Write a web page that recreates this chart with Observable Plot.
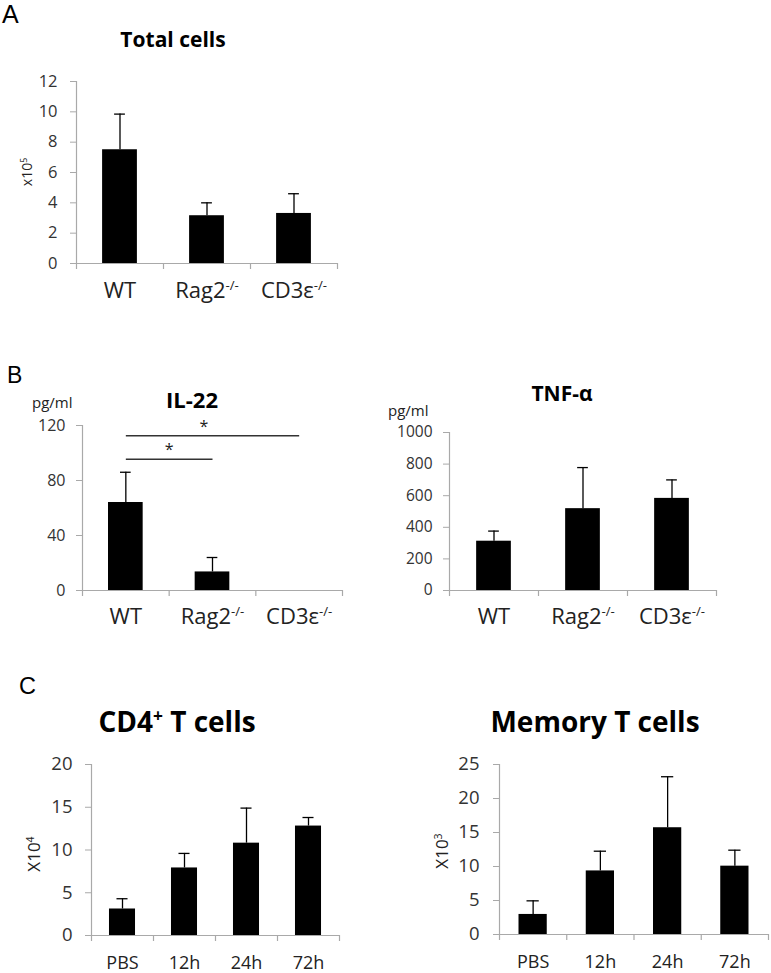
<!DOCTYPE html>
<html>
<head>
<meta charset="utf-8">
<script src="https://cdn.jsdelivr.net/npm/d3@7"></script>
<script src="https://cdn.jsdelivr.net/npm/@observablehq/plot@0.6"></script>
<style>
  html, body { margin: 0; padding: 0; background: #fff; }
  #page { position: relative; width: 771px; height: 973px; overflow: hidden; font-family: "Open Sans", sans-serif; color: #000; }
  .t { position: absolute; white-space: nowrap; line-height: 1; }
  .p { position: absolute; }
  sup { font-size: 0.62em; line-height: 0; vertical-align: 0.55em; }
</style>
</head>
<body>
<div id="page"></div>
<script>
// ---------- data ----------
const genotypes = ["WT", "Rag2-/-", "CD3ε-/-"];
const timepoints = ["PBS", "12h", "24h", "72h"];

const totalMean = [7.5, 3.15, 3.3];
const totalErr = [2.35, 0.85, 1.3];
const totalTicks = [0, 2, 4, 6, 8, 10, 12];

const il22Mean = [64, 13.5, 0];
const il22Err = [22, 10.5, 0];
const il22Ticks = [0, 40, 80, 120];
const il22Sig = [
  {from: "WT", to: "CD3ε-/-", y: 112.5, label: "*", pos: 0.9},
  {from: "WT", to: "Rag2-/-", y: 95.5, label: "*", pos: 0.5}
];

const tnfMean = [312, 518, 583];
const tnfErr = [64, 260, 117];
const tnfTicks = [0, 200, 400, 600, 800, 1000];

const cd4Mean = [3.1, 7.9, 10.8, 12.8];
const cd4Err = [1.2, 1.7, 4.1, 1.0];
const cd4Ticks = [0, 5, 10, 15, 20];

const memMean = [2.95, 9.35, 15.7, 10.05];
const memErr = [2.0, 2.9, 7.5, 2.35];
const memTicks = [0, 5, 10, 15, 20, 25];

// ---------- helpers ----------
const FONT = "'Open Sans', sans-serif";
const AX = "#a9a9a9";
const page = document.getElementById("page");

function addText(html, o) {
  const d = document.createElement("div");
  d.className = "t";
  d.innerHTML = html;
  d.style.fontSize = o.size + "px";
  d.style.fontWeight = o.weight || 400;
  d.style.color = o.color || "#000";
  if (o.family) d.style.fontFamily = o.family;
  d.style.left = o.left + "px";
  d.style.top = o.top + "px";
  if (o.rotate) d.style.transform = "translate(-50%,-50%) rotate(-90deg)";
  else if (o.center) d.style.transform = "translateX(-50%)";
  page.appendChild(d);
}

function barChart(o) {
  const {cats, mean, err, ticks, left, top, width, height, ml, mr, mt, mb, pad, yFont, yPad, xFont, xPad, cap} = o;
  const data = cats.map((c, i) => ({cat: c, v: mean[i], e: err[i], hi: mean[i] + err[i]}));
  const withErr = data.filter(d => d.e > 0);
  const step = (width - ml - mr) / cats.length;
  const yMax = ticks[ticks.length - 1];
  const last = cats[cats.length - 1];
  const axisStyle = {stroke: AX, strokeWidth: 1.2};
  const marks = [
    Plot.barY(data, {x: "cat", y: "v", fill: "#000"}),
    Plot.ruleX(withErr, {x: "cat", y1: "hi", y2: "v", stroke: "#000", strokeWidth: 1.3}),
    Plot.tickY(withErr, {x: "cat", y: "hi", stroke: "#000", strokeWidth: 1.3, insetLeft: cap, insetRight: cap}),
    Plot.ruleY([0], axisStyle),
    Plot.ruleX([cats[0]], {x: d => d, y1: yMax, y2: 0, dx: -step / 2, insetBottom: -6, ...axisStyle}),
    Plot.ruleX(cats.slice(1), {x: d => d, y1: 0, y2: 0, dx: -step / 2, insetBottom: -6, ...axisStyle}),
    Plot.ruleX([last], {x: d => d, y1: 0, y2: 0, dx: step / 2, insetBottom: -6, ...axisStyle}),
    Plot.axisY({ticks, tickSize: 6, tickPadding: yPad, stroke: AX, fill: "#333", fontSize: yFont, label: null, tickFormat: d => String(d)}),
    Plot.axisX({tickSize: 0, tickPadding: xPad, fill: "#222", fontSize: xFont, label: null})
  ];
  if (o.extra) marks.push(...o.extra(step));
  const plot = Plot.plot({
    width, height, marginLeft: ml, marginRight: mr, marginTop: mt, marginBottom: mb,
    style: {fontFamily: FONT, fontSize: yFont + "px", background: "transparent", color: "#333", overflow: "visible"},
    x: {domain: cats, paddingInner: pad, paddingOuter: pad / 2, round: false, align: 0.5},
    y: {domain: [0, yMax]},
    marks
  });
  // superscript "-/-" in category labels
  d3.select(plot).selectAll("text").each(function () {
    const t = this.textContent;
    const m = t.match(/^(.+?)(-\/-)$/);
    if (m && this.childElementCount === 0) {
      const s = d3.select(this);
      s.text(m[1]);
      s.append("tspan").attr("font-size", "0.6em").attr("dy", "-0.62em").text("-/-");
    }
  });
  const wrap = document.createElement("div");
  wrap.className = "p";
  wrap.style.left = left + "px";
  wrap.style.top = top + "px";
  wrap.appendChild(plot);
  page.appendChild(wrap);
}

const LETTER = "'Liberation Sans', Arial, sans-serif";

// ---------- Panel A ----------
addText("A", {left: 2, top: 2, size: 25, family: LETTER});
addText("Total cells", {left: 173, top: 29, size: 21, weight: 700, center: true});
addText("x10<sup>5</sup>", {left: 27, top: 172, size: 14, rotate: true, color: "#222"});
barChart({cats: genotypes, mean: totalMean, err: totalErr, ticks: totalTicks,
  left: 0, top: 70, width: 350, height: 240, ml: 76, mr: 13, mt: 11, mb: 47,
  pad: 0.6, yFont: 16.5, yPad: 13, xFont: 22, xPad: 19, cap: 12});

// ---------- Panel B ----------
addText("B", {left: 7, top: 364, size: 23, family: LETTER});
addText("IL-22", {left: 192, top: 388, size: 22, weight: 700, center: true});
addText("pg/ml", {left: 32, top: 395, size: 15, color: "#222"});
barChart({cats: genotypes, mean: il22Mean, err: il22Err, ticks: il22Ticks,
  left: 0, top: 415, width: 360, height: 215, ml: 82, mr: 18, mt: 10, mb: 40,
  pad: 0.6, yFont: 16, yPad: 11, xFont: 22, xPad: 18, cap: 12,
  extra: step => [
    Plot.link(il22Sig, {x1: "from", x2: "to", y1: "y", y2: "y", stroke: "#333", strokeWidth: 1.5}),
    ...il22Sig.map(s => Plot.text([s], {x: "from", y: "y", text: "label", dx: step * s.pos, dy: -9, fontSize: 16, fill: "#222"}))
  ]});

addText("TNF-&alpha;", {left: 562, top: 383, size: 21, weight: 700, center: true});
addText("pg/ml", {left: 388, top: 403, size: 15, color: "#222"});
barChart({cats: genotypes, mean: tnfMean, err: tnfErr, ticks: tnfTicks,
  left: 370, top: 420, width: 360, height: 210, ml: 79, mr: 14, mt: 12, mb: 40,
  pad: 0.61, yFont: 15.5, yPad: 11, xFont: 22, xPad: 18, cap: 12});

// ---------- Panel C ----------
addText("C", {left: 19, top: 675, size: 23.5, family: LETTER});
addText("CD4<sup>+</sup> T cells", {left: 177, top: 707, size: 28, weight: 700, center: true});
addText("X10<sup>4</sup>", {left: 33, top: 854, size: 17, rotate: true, color: "#222"});
barChart({cats: timepoints, mean: cd4Mean, err: cd4Err, ticks: cd4Ticks,
  left: 0, top: 755, width: 360, height: 218, ml: 91, mr: 21, mt: 9, mb: 38,
  pad: 0.58, yFont: 18.5, yPad: 13, xFont: 18, xPad: 21, cap: 7.5});

addText("Memory T cells", {left: 595, top: 707, size: 28, weight: 700, center: true});
addText("X10<sup>3</sup>", {left: 441, top: 851, size: 17, rotate: true, color: "#222"});
barChart({cats: timepoints, mean: memMean, err: memErr, ticks: memTicks,
  left: 380, top: 755, width: 391, height: 218, ml: 119, mr: 3, mt: 9, mb: 39,
  pad: 0.58, yFont: 18.5, yPad: 14, xFont: 18, xPad: 21, cap: 8});
</script>
</body>
</html>
